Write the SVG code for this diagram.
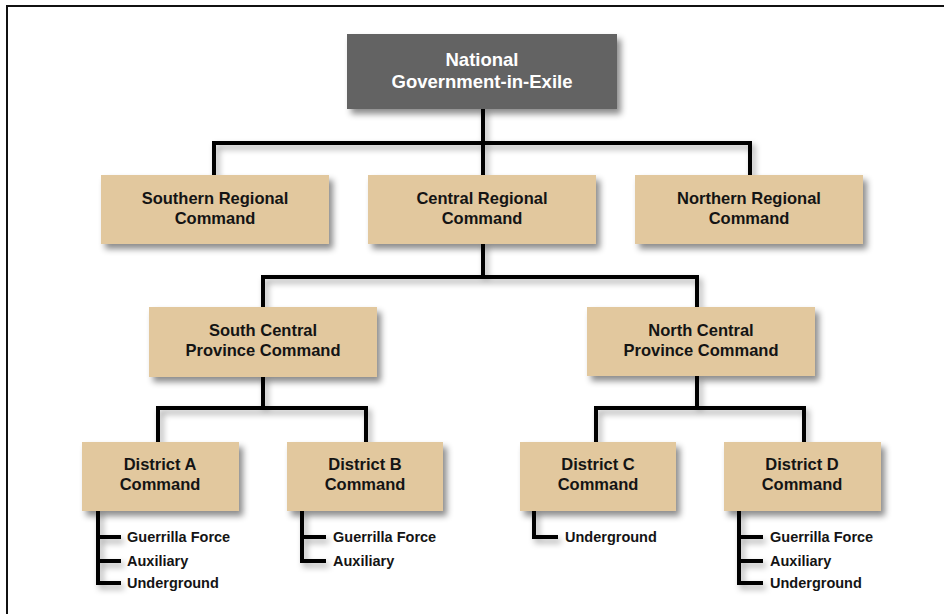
<svg xmlns="http://www.w3.org/2000/svg" width="944" height="614" viewBox="0 0 944 614">
<defs>
<filter id="sh" x="-10%" y="-10%" width="130%" height="140%">
<feDropShadow dx="4" dy="5" stdDeviation="3" flood-color="#000" flood-opacity="0.45"/>
</filter>
<filter id="lsh" x="-20%" y="-20%" width="140%" height="140%">
<feDropShadow dx="3" dy="4" stdDeviation="3" flood-color="#000" flood-opacity="0.35"/>
</filter>
</defs>
<style>
.box{fill:#E2C89E;filter:url(#sh)}
.top{fill:#636363;filter:url(#sh)}
.t{font-family:"Liberation Sans",Arial,sans-serif;font-weight:bold;font-size:16.5px;fill:#141414;text-anchor:middle}
.tw{font-family:"Liberation Sans",Arial,sans-serif;font-weight:bold;font-size:18.5px;fill:#ffffff;text-anchor:middle}
.s{font-family:"Liberation Sans",Arial,sans-serif;font-weight:bold;font-size:14.5px;fill:#141414}
.c{fill:none;stroke:#000;stroke-width:4;stroke-linejoin:miter;stroke-linecap:butt}
</style>
<rect x="7" y="6" width="945" height="620" fill="#fff" stroke="#111" stroke-width="2"/>
<g id="connectors" filter="url(#lsh)">
<path class="c" d="M483 108V143M214 175V143H750V175M483 143V175"/>
<path class="c" d="M483 243V277M263 307V277H697V307"/>
<path class="c" d="M263 376V408M158 442V408H366V442"/>
<path class="c" d="M697 376V408M596 442V408H804V442"/>
<path class="c" d="M98 510V583H121M98 537H121M98 561H121"/>
<path class="c" d="M302 510V561H326M302 537H326"/>
<path class="c" d="M534 510V537H558"/>
<path class="c" d="M739 510V583H763M739 537H763M739 561H763"/>
</g>
<g id="national">
<rect class="top" x="347" y="34" width="270" height="75"/>
<text class="tw" x="482" y="66">National</text>
<text class="tw" x="482" y="88">Government-in-Exile</text>
</g>
<g id="southern">
<rect class="box" x="101" y="175" width="228" height="69"/>
<text class="t" x="215" y="204">Southern Regional</text>
<text class="t" x="215" y="224">Command</text>
</g>
<g id="central">
<rect class="box" x="368" y="175" width="228" height="69"/>
<text class="t" x="482" y="204">Central Regional</text>
<text class="t" x="482" y="224">Command</text>
</g>
<g id="northern">
<rect class="box" x="635" y="175" width="228" height="69"/>
<text class="t" x="749" y="204">Northern Regional</text>
<text class="t" x="749" y="224">Command</text>
</g>
<g id="southcentral">
<rect class="box" x="149" y="307" width="228" height="70"/>
<text class="t" x="263" y="336">South Central</text>
<text class="t" x="263" y="356">Province Command</text>
</g>
<g id="northcentral">
<rect class="box" x="587" y="307" width="228" height="69"/>
<text class="t" x="701" y="336">North Central</text>
<text class="t" x="701" y="356">Province Command</text>
</g>
<g id="districtA">
<rect class="box" x="82" y="442" width="157" height="69"/>
<text class="t" x="160" y="470">District A</text>
<text class="t" x="160" y="490">Command</text>
</g>
<g id="districtB">
<rect class="box" x="287" y="442" width="156" height="69"/>
<text class="t" x="365" y="470">District B</text>
<text class="t" x="365" y="490">Command</text>
</g>
<g id="districtC">
<rect class="box" x="520" y="442" width="156" height="69"/>
<text class="t" x="598" y="470">District C</text>
<text class="t" x="598" y="490">Command</text>
</g>
<g id="districtD">
<rect class="box" x="724" y="442" width="157" height="69"/>
<text class="t" x="802" y="470">District D</text>
<text class="t" x="802" y="490">Command</text>
</g>
<g id="labels">
<text class="s" x="127" y="542">Guerrilla Force</text>
<text class="s" x="127" y="566">Auxiliary</text>
<text class="s" x="127" y="588">Underground</text>
<text class="s" x="333" y="542">Guerrilla Force</text>
<text class="s" x="333" y="566">Auxiliary</text>
<text class="s" x="565" y="542">Underground</text>
<text class="s" x="770" y="542">Guerrilla Force</text>
<text class="s" x="770" y="566">Auxiliary</text>
<text class="s" x="770" y="588">Underground</text>
</g>
</svg>
